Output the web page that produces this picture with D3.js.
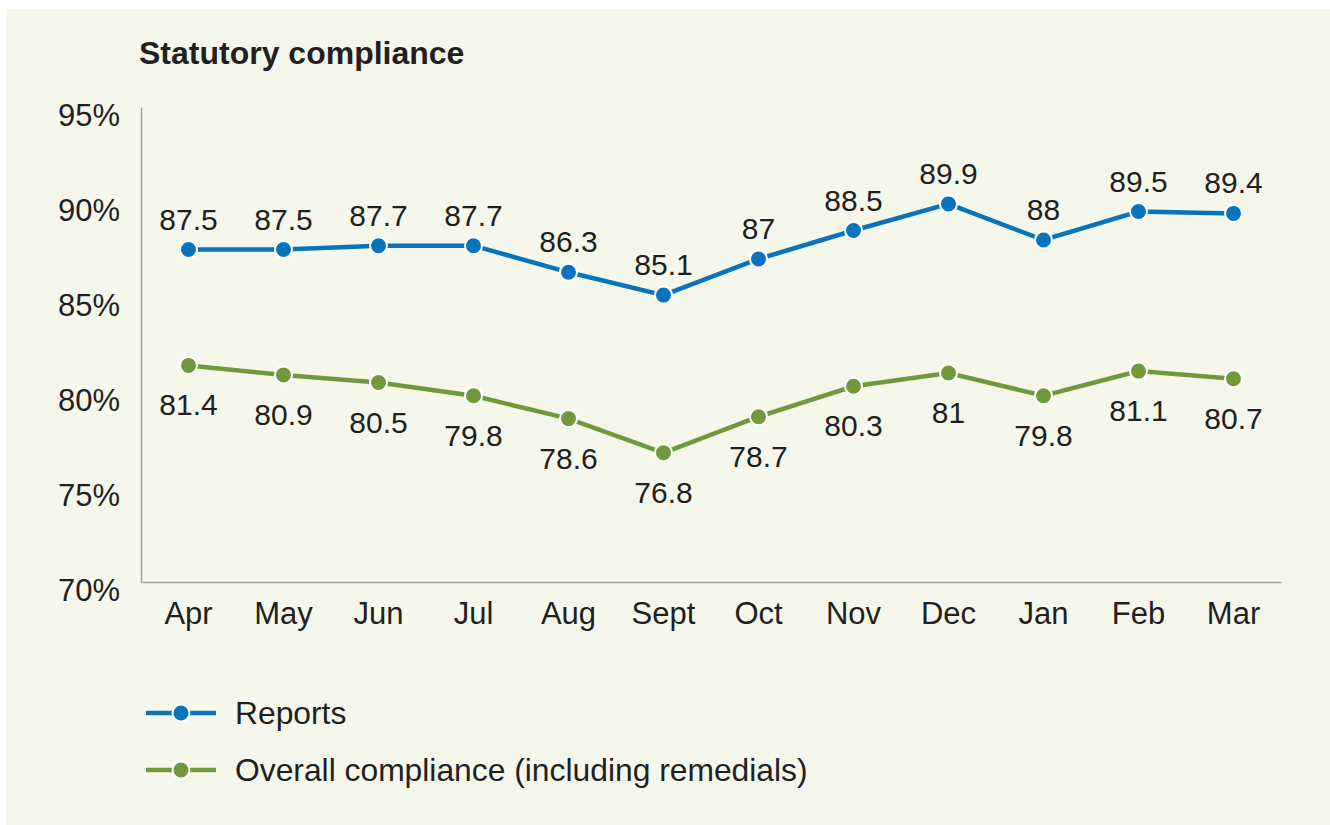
<!DOCTYPE html>
<html>
<head>
<meta charset="utf-8">
<script src="https://cdn.jsdelivr.net/npm/d3@7"></script>
<style>
  body { margin: 0; background: #fff; }
  svg { display: block; font-family: "Liberation Sans", Arial, Helvetica, sans-serif; }
</style>
</head>
<body>
<svg id="chart"></svg>
<script>
// chart data
const months = ["Apr", "May", "Jun", "Jul", "Aug", "Sept", "Oct", "Nov", "Dec", "Jan", "Feb", "Mar"];
const reports = [87.5, 87.5, 87.7, 87.7, 86.3, 85.1, 87, 88.5, 89.9, 88, 89.5, 89.4];
const overall = [81.4, 80.9, 80.5, 79.8, 78.6, 76.8, 78.7, 80.3, 81, 79.8, 81.1, 80.7];
const yTicks = [70, 75, 80, 85, 90, 95];

const series = [
    { name: "Reports", values: reports, color: "#0a73bd", labelPos: "above" },
    { name: "Overall compliance (including remedials)", values: overall, color: "#70993f", labelPos: "below" }
];

const width = 1330, height = 825;
const plotLeft = 141, plotRight = 1281, plotTop = 107, plotBottom = 582;
const textColor = "#231f20";

const svg = d3.select("#chart")
    .attr("width", width)
    .attr("height", height);

// panel background
svg.append("rect")
    .attr("x", 6)
    .attr("y", 9)
    .attr("width", width - 6)
    .attr("height", height - 9)
    .attr("fill", "#f5f7ea");

svg.append("text")
    .attr("x", 139)
    .attr("y", 64)
    .attr("fill", textColor)
    .style("font-size", "32px")
    .style("font-weight", "bold")
    .text("Statutory compliance");

const x = d3.scaleBand()
    .domain(months)
    .range([plotLeft, plotRight]);

const y = d3.scaleLinear()
    .domain([70, 95])
    .range([plotBottom, plotTop]);

// y axis
const yAxis = svg.append("g")
    .attr("transform", `translate(${plotLeft},0)`)
    .call(d3.axisLeft(y).tickValues(yTicks).tickSize(0).tickPadding(21).tickFormat(d => d + "%"));
yAxis.select(".domain").attr("stroke", "#a3a3a3").attr("stroke-width", 1.5);
yAxis.selectAll("text")
    .attr("fill", textColor)
    .attr("dy", "0.6em")
    .style("font-size", "31px")
    .style("font-family", "inherit");

// x axis
const xAxis = svg.append("g")
    .attr("transform", `translate(0,${plotBottom})`)
    .call(d3.axisBottom(x).tickSize(0).tickPadding(20));
xAxis.select(".domain").attr("stroke", "#a3a3a3").attr("stroke-width", 1.5);
xAxis.selectAll("text")
    .attr("fill", textColor)
    .style("font-size", "31px")
    .style("font-family", "inherit");

const cx = i => x(months[i]) + x.bandwidth() / 2;

const line = d3.line()
    .x((d, i) => cx(i))
    .y(d => y(d));

series.forEach(s => {
    const g = svg.append("g");
    g.append("path")
        .datum(s.values)
        .attr("d", line)
        .attr("fill", "none")
        .attr("stroke", s.color)
        .attr("stroke-width", 4.5);

    g.selectAll("circle")
        .data(s.values)
        .enter()
        .append("circle")
        .attr("cx", (d, i) => cx(i))
        .attr("cy", d => y(d))
        .attr("r", 8.5)
        .attr("fill", s.color)
        .attr("stroke", "#fff")
        .attr("stroke-width", 2);

    g.selectAll("text")
        .data(s.values)
        .enter()
        .append("text")
        .attr("x", (d, i) => cx(i))
        .attr("y", d => s.labelPos === "above" ? y(d) - 20 : y(d) + 50)
        .attr("text-anchor", "middle")
        .attr("fill", textColor)
        .style("font-size", "30px")
        .text(d => d);
});

// legend
const legend = svg.append("g");
series.forEach((s, i) => {
    const ly = 713 + i * 57;
    legend.append("line")
        .attr("x1", 146)
        .attr("x2", 216)
        .attr("y1", ly)
        .attr("y2", ly)
        .attr("stroke", s.color)
        .attr("stroke-width", 4.5);
    legend.append("circle")
        .attr("cx", 181)
        .attr("cy", ly)
        .attr("r", 8.5)
        .attr("fill", s.color)
        .attr("stroke", "#fff")
        .attr("stroke-width", 2);
    legend.append("text")
        .attr("x", 235)
        .attr("y", ly)
        .attr("dy", "0.36em")
        .attr("fill", textColor)
        .style("font-size", "31.8px")
        .text(s.name);
});
</script>
</body>
</html>
